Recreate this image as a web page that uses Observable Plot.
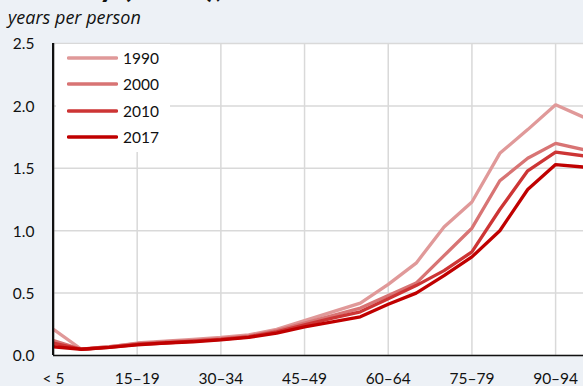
<!DOCTYPE html>
<html>
<head>
<meta charset="utf-8">
<script src="https://cdn.jsdelivr.net/npm/d3@7"></script>
<script src="https://cdn.jsdelivr.net/npm/@observablehq/plot@0.6"></script>
<style>
  html, body { margin: 0; padding: 0; background: #edf1f6; overflow: hidden; }
  body { width: 583px; height: 386px; position: relative; font-family: Lato, "Open Sans", sans-serif; color: #111; }
  #title { position: absolute; left: -18px; top: -31.5px; font-size: 32px; line-height: 32px; font-weight: 700; white-space: nowrap; }
  #subtitle { position: absolute; left: 8px; top: 8px; font-family: "Open Sans", sans-serif; font-size: 18px; line-height: 18px; font-style: italic; white-space: nowrap; }
  #chart { position: absolute; left: 0; top: 30px; z-index: 1; }
  #legend { position: absolute; left: 56px; top: 44px; width: 114px; height: 108px; background: white; z-index: 2; }
  #leftaxis { position: absolute; left: 52px; top: 43px; width: 2px; height: 312px; background: #111; z-index: 3; }
  .item { position: absolute; left: 11px; height: 20px; display: flex; align-items: center; font-size: 15.5px; }
  .item svg { margin-right: 5px; }
</style>
</head>
<body>
<div id="title">Disability (YLDs),</div>
<div id="subtitle">years per person</div>
<div id="chart"></div>
<div id="legend"></div>
<script>
const ages = ["< 5","5–9","10–14","15–19","20–24","25–29","30–34","35–39","40–44","45–49","50–54","55–59","60–64","65–69","70–74","75–79","80–84","85–89","90–94","95+"];
const xTickLabels = ["< 5","15–19","30–34","45–49","60–64","75–79","90–94"];
const yTicks = [0, 0.5, 1.0, 1.5, 2.0, 2.5];
const years = ["1990","2000","2010","2017"];
const v1990 = [0.21,0.05,0.07,0.10,0.115,0.13,0.145,0.165,0.21,0.28,0.35,0.42,0.57,0.74,1.03,1.23,1.62,1.81,2.01,1.91];
const v2000 = [0.12,0.05,0.07,0.095,0.11,0.12,0.135,0.155,0.20,0.26,0.32,0.38,0.48,0.58,0.80,1.02,1.40,1.58,1.70,1.65];
const v2010 = [0.10,0.05,0.065,0.09,0.10,0.115,0.13,0.15,0.19,0.245,0.30,0.35,0.455,0.56,0.68,0.83,1.17,1.48,1.63,1.60];
const v2017 = [0.07,0.05,0.065,0.085,0.10,0.11,0.125,0.145,0.18,0.23,0.27,0.31,0.41,0.50,0.64,0.79,1.00,1.33,1.53,1.51];
const colors = ["#e09999","#d87474","#cd3535","#c00000"];

const series = [v1990, v2000, v2010, v2017];
const data = [];
series.forEach((vals, k) => vals.forEach((v, i) => data.push({age: ages[i], value: v, year: years[k]})));

const chart = Plot.plot({
  width: 583,
  height: 356,
  marginTop: 13,
  marginBottom: 31,
  marginLeft: 53,
  marginRight: 0,
  style: {background: "transparent", fontFamily: "Lato, 'Open Sans', sans-serif", fontSize: "15.5px", color: "#111"},
  x: {type: "point", domain: ages, padding: 0, round: false, label: null},
  y: {domain: [0, 2.5], label: null},
  color: {domain: years, range: colors},
  marks: [
    Plot.frame({fill: "white", stroke: null}),
    Plot.ruleY(yTicks, {stroke: "#d9d9d9", strokeWidth: 1.5}),
    Plot.ruleX(xTickLabels, {stroke: "#d9d9d9", strokeWidth: 1.5}),
    Plot.axisY({ticks: yTicks, tickSize: 0, tickPadding: 19, tickFormat: d3.format(".1f"), dy: 1, label: null}),
    Plot.axisX({ticks: xTickLabels, tickSize: 0, tickPadding: 17, label: null}),
    Plot.line(data, {x: "age", y: "value", z: "year", stroke: "year", strokeWidth: 3.3, strokeLinejoin: "miter", strokeLinecap: "butt"}),
    Plot.ruleY([0], {stroke: "#111", strokeWidth: 1.5}),
    Plot.ruleX([ages[0]], {stroke: "#111", strokeWidth: 1.5})
  ]
});
document.getElementById("chart").appendChild(chart);

// the legend box hides the grid; the left axis line is redrawn above it
const axisLine = document.createElement("div");
axisLine.id = "leftaxis";
document.body.appendChild(axisLine);

const legend = document.getElementById("legend");
years.forEach((y, k) => {
  const item = document.createElement("div");
  item.className = "item";
  item.style.top = (4 + k * 26.3) + "px";
  item.innerHTML = `<svg width="51" height="6"><line x1="1.5" y1="3" x2="49.5" y2="3" stroke="${colors[k]}" stroke-width="3.5" stroke-linecap="round"/></svg><span>${y}</span>`;
  legend.appendChild(item);
});
</script>
</body>
</html>
